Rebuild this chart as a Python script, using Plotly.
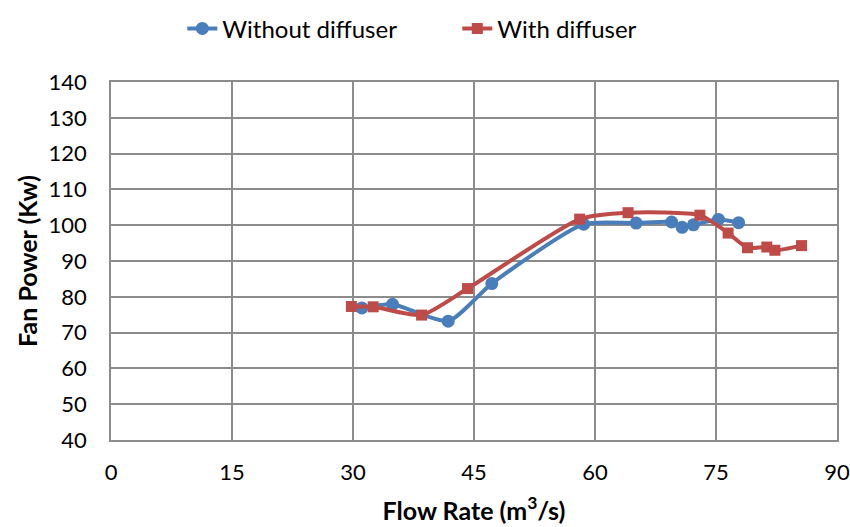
import plotly.graph_objects as go

# Data
without_x = [31.1, 34.9, 41.8, 47.2, 58.6, 65.1, 69.5, 70.8, 72.2, 75.3, 77.8]
without_y = [76.9, 77.9, 73.2, 83.7, 100.3, 100.6, 100.9, 99.4, 100.1, 101.6, 100.7]

with_x = [29.8, 32.5, 38.5, 44.2, 58.1, 64.1, 73.0, 76.5, 78.9, 81.3, 82.3, 85.6]
with_y = [77.3, 77.2, 74.9, 82.3, 101.7, 103.5, 102.8, 97.8, 93.7, 93.9, 93.0, 94.3]

x_ticks = [0, 15, 30, 45, 60, 75, 90]
y_ticks = [40, 50, 60, 70, 80, 90, 100, 110, 120, 130, 140]

FONT = "Lato, Carlito, 'Open Sans', sans-serif"
GRID = "#8c8c8c"

fig = go.Figure()
fig.add_trace(go.Scatter(
    x=without_x, y=without_y, mode="lines+markers", name="Without diffuser",
    line=dict(color="#4a7ebb", width=4, shape="spline", smoothing=0.6),
    marker=dict(symbol="circle", size=13, color="#4a7ebb"),
))
fig.add_trace(go.Scatter(
    x=with_x, y=with_y, mode="lines+markers", name="With diffuser",
    line=dict(color="#be4b48", width=4, shape="spline", smoothing=0.6),
    marker=dict(symbol="square", size=11, color="#be4b48"),
))

fig.update_layout(
    width=850, height=527,
    margin=dict(l=111, r=13, t=82, b=87),
    paper_bgcolor="white", plot_bgcolor="white",
    font=dict(family=FONT, size=22, color="#000000"),
    legend=dict(orientation="h", x=0.538, xanchor="center", xref="container",
                y=0.988, yanchor="top", yref="container",
                font=dict(size=24, color="#000000"),
                traceorder="normal", entrywidth=230, entrywidthmode="pixels"),
    showlegend=True,
)

fig.update_xaxes(
    range=[0, 90], tickvals=x_ticks, ticktext=[str(v) for v in x_ticks],
    showgrid=True, gridcolor=GRID, gridwidth=1.5,
    showline=True, linecolor=GRID, linewidth=1.5, mirror=True,
    zeroline=False, ticks="", ticklabelstandoff=12, automargin=False,
    tickfont=dict(size=22, color="#000000"),
    title=dict(text="<b>Flow Rate (m<sup>3</sup>/s)</b>", font=dict(size=25, color="#000000"), standoff=18),
)
fig.update_yaxes(
    range=[40, 140], tickvals=y_ticks, ticktext=[str(v) for v in y_ticks],
    showgrid=True, gridcolor=GRID, gridwidth=1.5,
    showline=True, linecolor=GRID, linewidth=1.5, mirror=True,
    zeroline=False, ticks="", ticklabelstandoff=18, automargin=False,
    tickfont=dict(size=22, color="#000000"),
    title=dict(text="<b>Fan Power (Kw)</b>", font=dict(size=25, color="#000000"), standoff=4),
)

fig.write_html("out.html")
